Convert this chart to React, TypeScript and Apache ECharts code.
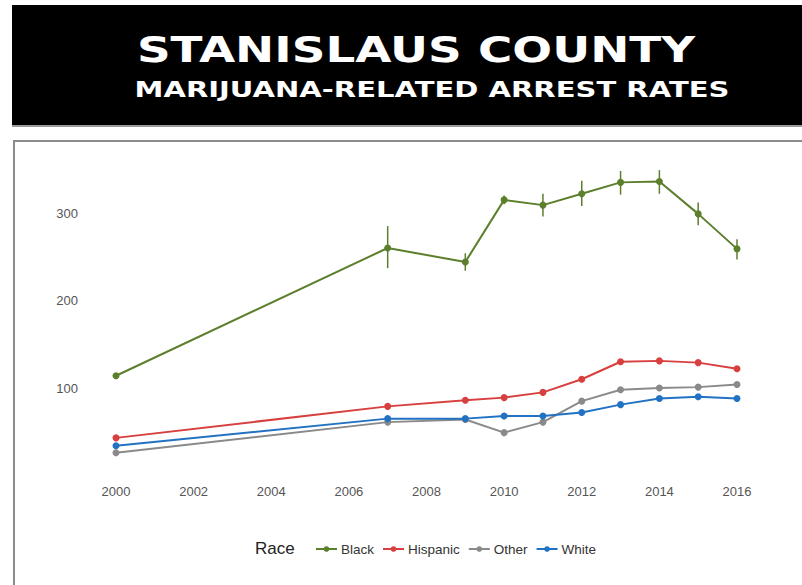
import React, { useEffect, useRef } from "react";
import * as echarts from "echarts";

const years = [2000, 2007, 2009, 2010, 2011, 2012, 2013, 2014, 2015, 2016];
const black = [114, 260, 244, 315, 309, 322, 335, 336, 299, 259];
const blackLow = [111, 237, 234, 310, 296, 308, 321, 322, 286, 247];
const blackHigh = [117, 285, 254, 320, 322, 337, 348, 349, 312, 270];
const hispanic = [43, 79, 86, 89, 95, 110, 130, 131, 129, 122];
const other = [26, 61, 64, 49, 61, 85, 98, 100, 101, 104];
const white = [34, 65, 65, 68, 68, 72, 81, 88, 90, 88];
const yTicks = [100, 200, 300];

const COLORS = { Black: "#5b7f2b", Hispanic: "#d8403f", Other: "#8a8a8a", White: "#2272c3" };
const FONT = "'Liberation Sans Narrow', 'Liberation Sans', Arial, sans-serif";

export default function App() {
  const ref = useRef<HTMLDivElement>(null);
  useEffect(() => {
    if (!ref.current) return;
    const chart = echarts.init(ref.current, undefined, { renderer: "svg" });
    const pair = (arr: number[]) => years.map((y, i) => [y, arr[i]]);
    const lineSeries = (name: string, arr: number[]) => ({
      name,
      type: "line",
      data: pair(arr),
      symbol: "circle",
      symbolSize: 7,
      clip: false,
      lineStyle: { color: (COLORS as any)[name], width: 2 },
      itemStyle: { color: (COLORS as any)[name] },
      z: 3,
    });
    chart.setOption({
      animation: false,
      backgroundColor: "#ffffff",
      graphic: [
        { type: "rect", shape: { x: 12, y: 124, width: 790, height: 3 }, style: { fill: "#9a9a9a" } },
        { type: "rect", shape: { x: 12, y: 5, width: 790, height: 120 }, style: { fill: "#000000" } },
        {
          type: "text",
          x: 416,
          y: 49,
          scaleX: 1.3,
          style: {
            text: "STANISLAUS COUNTY",
            fill: "#ffffff",
            font: "bold 36px 'DejaVu Sans', sans-serif",
            align: "center",
            verticalAlign: "middle",
          },
        },
        {
          type: "text",
          x: 432,
          y: 89,
          scaleX: 1.32,
          style: {
            text: "MARIJUANA-RELATED ARREST RATES",
            fill: "#ffffff",
            font: "bold 22px 'DejaVu Sans', sans-serif",
            align: "center",
            verticalAlign: "middle",
          },
        },
        {
          type: "rect",
          shape: { x: 14, y: 141, width: 800, height: 460 },
          style: { fill: "none", stroke: "#8c8c8c", lineWidth: 2 },
        },
        {
          type: "text",
          x: 255,
          y: 548,
          style: {
            text: "Race",
            fill: "#222222",
            font: "17px " + FONT,
            align: "left",
            verticalAlign: "middle",
          },
        },
      ],
      grid: { left: 116, right: 65, top: 125.5, height: 350, containLabel: false },
      xAxis: {
        type: "value",
        min: 2000,
        max: 2016,
        interval: 2,
        axisLine: { show: false },
        axisTick: { show: false },
        splitLine: { show: false },
        axisLabel: {
          color: "#555555",
          fontSize: 13,
          fontFamily: FONT,
          margin: 9,
          formatter: (v: number) => String(v),
        },
      },
      yAxis: {
        type: "value",
        min: 0,
        max: 400,
        interval: 100,
        axisLine: { show: false },
        axisTick: { show: false },
        splitLine: { show: false },
        axisLabel: {
          color: "#555555",
          fontSize: 13,
          fontFamily: FONT,
          margin: 38,
          formatter: (v: number) => (yTicks.includes(v) ? String(v) : ""),
        },
      },
      legend: {
        left: 310,
        top: 537,
        itemWidth: 21,
        itemHeight: 7,
        itemGap: 8,
        textStyle: { color: "#333333", fontSize: 13.5, fontFamily: FONT, padding: [0, 0, 0, -1] },
        data: ["Black", "Hispanic", "Other", "White"],
      },
      series: [
        lineSeries("Black", black),
        lineSeries("Hispanic", hispanic),
        lineSeries("Other", other),
        lineSeries("White", white),
        {
          name: "BlackErr",
          type: "custom",
          data: years.map((y, i) => [y, blackLow[i], blackHigh[i]]),
          renderItem: (_p: any, api: any) => {
            const a = api.coord([api.value(0), api.value(1)]);
            const b = api.coord([api.value(0), api.value(2)]);
            return {
              type: "line",
              shape: { x1: a[0], y1: a[1], x2: b[0], y2: b[1] },
              style: { stroke: COLORS.Black, lineWidth: 1.5 },
            };
          },
          z: 2,
        },
      ],
    });
    return () => chart.dispose();
  }, []);
  return <div ref={ref} style={{ position: "fixed", left: 0, top: 0, width: 802, height: 585 }} />;
}
